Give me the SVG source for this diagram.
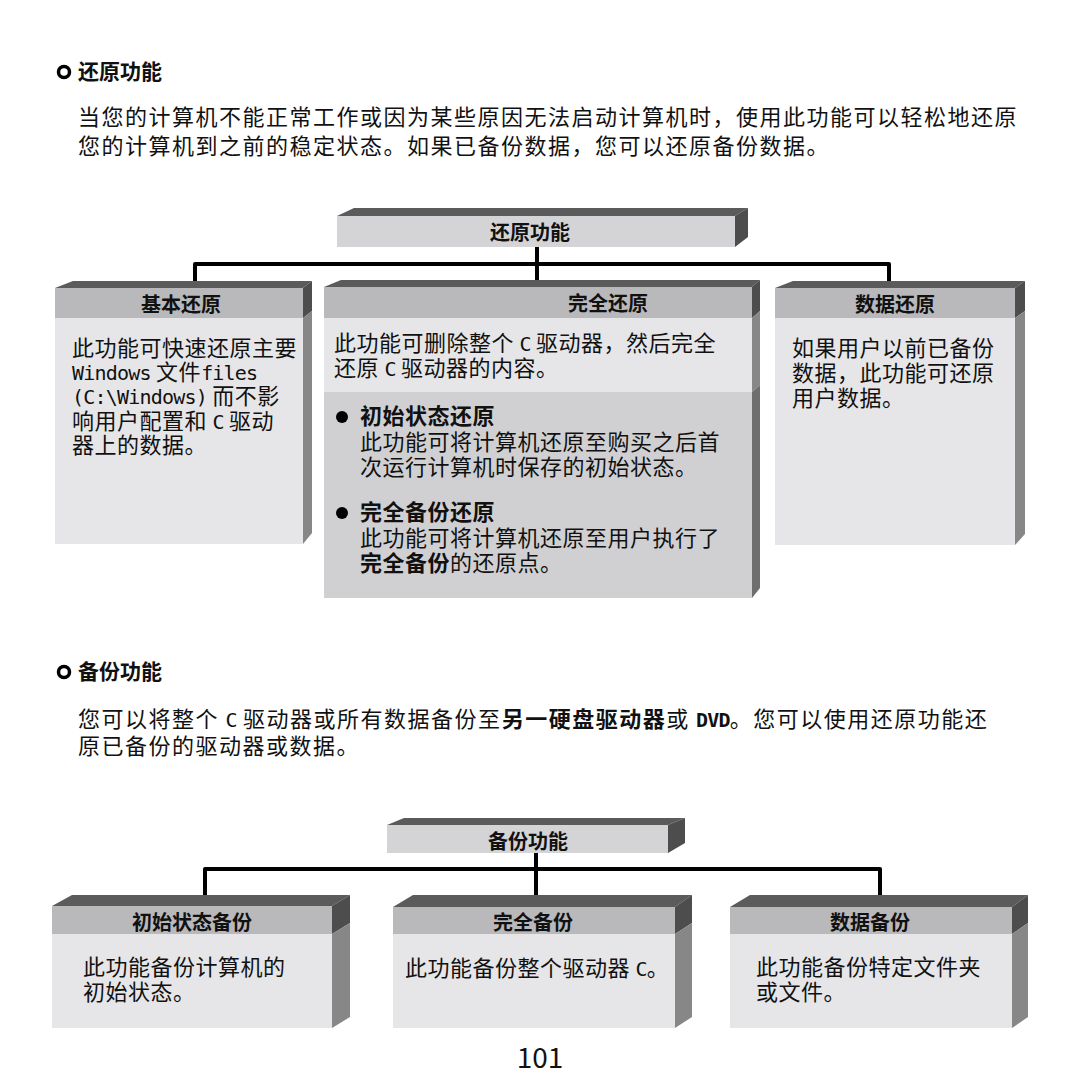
<svg xmlns="http://www.w3.org/2000/svg" width="1080" height="1080" viewBox="0 0 1080 1080">
<style>
text{font-family:'Noto Sans CJK SC','Noto Sans',sans-serif;fill:#111;}
.h{font-size:21px;font-weight:700;}
.p{font-size:22px;letter-spacing:1.5px;}
.b{font-size:22px;letter-spacing:0.5px;}
.t{font-size:20px;font-weight:700;text-anchor:middle;}
.m{font-family:'DejaVu Sans Mono',monospace;font-size:20px;letter-spacing:-0.8px;}
.bd{font-weight:700;}
.face{fill:#5b5b5b;}
.sideD{fill:#4d4d4d;}
.sideL{fill:#878787;}
.sideM{fill:#6e6e6e;}
.hdr{fill:#b9b9bb;}
.body{fill:#e6e6e8;}
.dark{fill:#d0d0d2;}
.top{fill:#d4d4d6;}
.conn{fill:none;stroke:#000;stroke-width:4;stroke-linejoin:round;}
.ring{fill:none;stroke:#000;stroke-width:3.5;}
</style>
<rect width="1080" height="1080" fill="#fff"/>

<!-- Section 1 heading -->
<g id="sec1">
<circle class="ring" cx="64" cy="72" r="5.5"/>
<text class="h" x="78" y="79">还原功能</text>
<text class="p" x="78" y="125">当您的计算机不能正常工作或因为某些原因无法启动计算机时，使用此功能可以轻松地还原</text>
<text class="p" x="78" y="154">您的计算机到之前的稳定状态。如果已备份数据，您可以还原备份数据。</text>
</g>

<!-- connectors -->
<g id="connectors">
<path class="conn" d="M537 247 V284"/>
<path class="conn" d="M195 284 V264 H889 V284"/>
<path class="conn" d="M536 853 V907"/>
<path class="conn" d="M205 900 V869 H880 V900"/>
</g>

<!-- top root box -->
<g id="n-restore-root">
<polygon class="face" points="337,216 354,208 748,208 735,216"/>
<polygon class="sideD" points="735,216 748,208 748,237 735,247"/>
<rect class="top" x="337" y="216" width="398" height="31"/>
<text class="t" x="530" y="240">还原功能</text>
</g>

<!-- 基本还原 -->
<g id="n-basic">
<polygon class="face" points="55,288 73,281 312,281 303,288"/>
<polygon class="sideD" points="303,288 312,281 312,311 303,318"/>
<polygon class="sideL" points="303,318 312,311 312,533 303,544"/>
<rect class="hdr" x="55" y="288" width="248" height="30"/>
<rect class="body" x="55" y="318" width="248" height="226"/>
<text class="t" x="181" y="312">基本还原</text>
<text class="b" x="72" y="356">此功能可快速还原主要</text>
<text class="b" x="72" y="380"><tspan class="m">Windows</tspan> 文件<tspan class="m">files</tspan></text>
<text class="b" x="72" y="404"><tspan class="m">(C:\Windows)</tspan> 而不影</text>
<text class="b" x="72" y="429">响用户配置和 <tspan class="m">C</tspan> 驱动</text>
<text class="b" x="72" y="453">器上的数据。</text>
</g>

<!-- 完全还原 -->
<g id="n-full">
<polygon class="face" points="324,287 341,280 760,280 752,287"/>
<polygon class="sideD" points="752,287 760,280 760,311 752,318"/>
<polygon class="sideL" points="752,318 760,311 760,385 752,392"/>
<polygon class="sideM" points="752,392 760,385 760,588 752,598"/>
<rect class="hdr" x="324" y="287" width="428" height="31"/>
<rect class="body" x="324" y="318" width="428" height="74"/>
<rect class="dark" x="324" y="392" width="428" height="206"/>
<text class="t" x="608" y="311">完全还原</text>
<text class="b" x="334" y="351">此功能可删除整个 <tspan class="m">C</tspan> 驱动器，然后完全</text>
<text class="b" x="334" y="376">还原 <tspan class="m">C</tspan> 驱动器的内容。</text>
<circle cx="342" cy="417" r="6" fill="#000"/>
<text class="b bd" x="360" y="424">初始状态还原</text>
<text class="b" x="360" y="450">此功能可将计算机还原至购买之后首</text>
<text class="b" x="360" y="475">次运行计算机时保存的初始状态。</text>
<circle cx="342" cy="513" r="6" fill="#000"/>
<text class="b bd" x="360" y="520">完全备份还原</text>
<text class="b" x="360" y="546">此功能可将计算机还原至用户执行了</text>
<text class="b" x="360" y="571"><tspan class="bd">完全备份</tspan>的还原点。</text>
</g>

<!-- 数据还原 -->
<g id="n-data">
<polygon class="face" points="775,288 793,281 1025,281 1015,288"/>
<polygon class="sideD" points="1015,288 1025,281 1025,311 1015,318"/>
<polygon class="sideL" points="1015,318 1025,311 1025,534 1015,545"/>
<rect class="hdr" x="775" y="288" width="240" height="30"/>
<rect class="body" x="775" y="318" width="240" height="227"/>
<text class="t" x="895" y="312">数据还原</text>
<text class="b" x="792" y="356">如果用户以前已备份</text>
<text class="b" x="792" y="381">数据，此功能可还原</text>
<text class="b" x="792" y="406">用户数据。</text>
</g>

<!-- Section 2 heading -->
<g id="sec2">
<circle class="ring" cx="64" cy="672" r="5.5"/>
<text class="h" x="78" y="679">备份功能</text>
<text class="p" x="78" y="727">您可以将整个 <tspan class="m">C</tspan> 驱动器或所有数据备份至<tspan class="bd">另一硬盘驱动器</tspan>或 <tspan class="m" font-weight="700" font-size="22" letter-spacing="0">DVD</tspan>。您可以使用还原功能还</text>
<text class="p" x="78" y="754">原已备份的驱动器或数据。</text>
</g>

<!-- backup root -->
<g id="n-backup-root">
<polygon class="face" points="387,825 404,818 685,818 668,825"/>
<polygon class="sideD" points="668,825 685,818 685,843 668,853"/>
<rect class="top" x="387" y="825" width="281" height="28"/>
<text class="t" x="528" y="849">备份功能</text>
</g>

<!-- 初始状态备份 -->
<g id="n-initial-backup">
<polygon class="face" points="52,906 72,895 350,895 332,906"/>
<polygon class="sideD" points="332,906 350,895 350,923 332,934"/>
<polygon class="sideL" points="332,934 350,923 350,1017 332,1028"/>
<rect class="hdr" x="52" y="906" width="280" height="28"/>
<rect class="body" x="52" y="934" width="280" height="94"/>
<text class="t" x="192" y="930">初始状态备份</text>
<text class="b" x="83" y="975">此功能备份计算机的</text>
<text class="b" x="83" y="1000">初始状态。</text>
</g>

<!-- 完全备份 -->
<g id="n-full-backup">
<polygon class="face" points="393,907 413,895 692,895 675,907"/>
<polygon class="sideD" points="675,907 692,895 692,923 675,934"/>
<polygon class="sideL" points="675,934 692,923 692,1017 675,1028"/>
<rect class="hdr" x="393" y="907" width="282" height="27"/>
<rect class="body" x="393" y="934" width="282" height="94"/>
<text class="t" x="533" y="930">完全备份</text>
<text class="b" x="405" y="976">此功能备份整个驱动器 <tspan class="m">C</tspan>。</text>
</g>

<!-- 数据备份 -->
<g id="n-data-backup">
<polygon class="face" points="730,907 750,895 1028,895 1012,907"/>
<polygon class="sideD" points="1012,907 1028,895 1028,923 1012,934"/>
<polygon class="sideL" points="1012,934 1028,923 1028,1017 1012,1028"/>
<rect class="hdr" x="730" y="907" width="282" height="27"/>
<rect class="body" x="730" y="934" width="282" height="94"/>
<text class="t" x="870" y="930">数据备份</text>
<text class="b" x="756" y="975">此功能备份特定文件夹</text>
<text class="b" x="756" y="1000">或文件。</text>
</g>

<text x="540" y="1068" font-family="'Liberation Sans',sans-serif" font-size="28" text-anchor="middle">101</text>
</svg>
